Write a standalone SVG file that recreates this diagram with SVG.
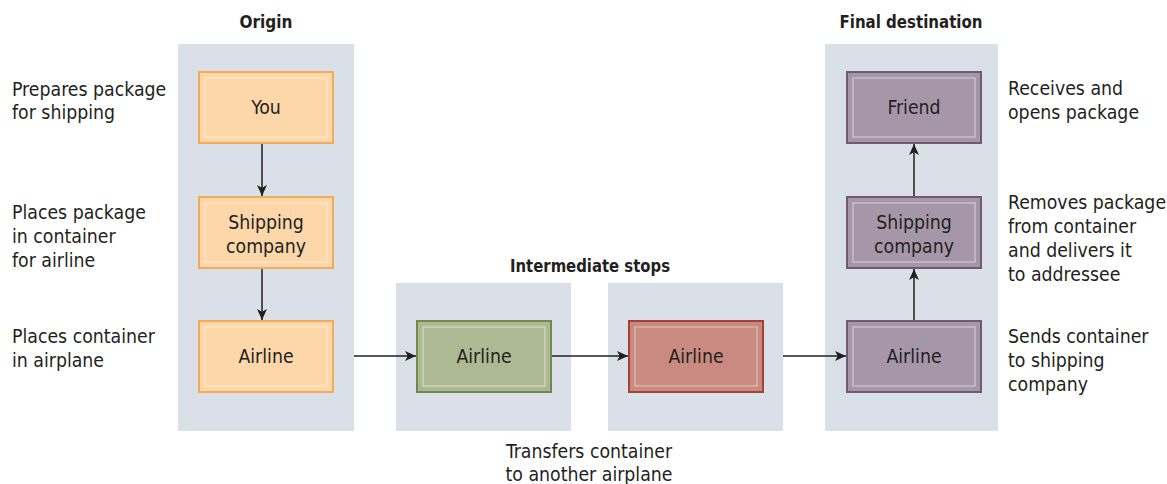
<svg xmlns="http://www.w3.org/2000/svg" width="1167" height="484" viewBox="0 0 1167 484">
<style>
text{font-family:"Liberation Sans Narrow","DejaVu Sans Condensed","Roboto Condensed","Liberation Sans",sans-serif;font-size:19.3px;fill:#231f20}
.t{font-weight:bold;text-anchor:middle;font-size:18.5px}
.c{text-anchor:middle}
.panel{fill:#d9e0e7}
.inner{fill:none;stroke-width:1.2}
.or{fill:#fdd6aa;stroke:#f5a95a;stroke-width:2}
.or2{stroke:#fde6c8}
.gr{fill:#adb993;stroke:#6f8a4a;stroke-width:2}
.gr2{stroke:#d5dcc3}
.rd{fill:#c98a82;stroke:#a8403a;stroke-width:2}
.rd2{stroke:#e6bcb6}
.pu{fill:#a597a8;stroke:#6f5a72;stroke-width:2}
.pu2{stroke:#d3c9d4}
.conn{stroke:#231f20;stroke-width:1.5;fill:none;marker-end:url(#ah)}
</style>
<defs>
<marker id="ah" viewBox="0 0 10 10" refX="10" refY="5" markerWidth="13" markerHeight="11" markerUnits="userSpaceOnUse" orient="auto">
<path d="M0,0.5 L10,5 L0,9.5 L2.5,5 z" fill="#231f20"/>
</marker>
</defs>
<g id="panels">
<rect class="panel" x="178" y="44" width="176" height="387"/>
<rect class="panel" x="396" y="283" width="175" height="148"/>
<rect class="panel" x="608" y="283" width="175" height="148"/>
<rect class="panel" x="825" y="44" width="173" height="387"/>
</g>
<g id="titles">
<text class="t" x="266" y="28" textLength="53" lengthAdjust="spacingAndGlyphs">Origin</text>
<text class="t" x="590" y="272" textLength="160" lengthAdjust="spacingAndGlyphs">Intermediate stops</text>
<text class="t" x="911" y="28" textLength="143" lengthAdjust="spacingAndGlyphs">Final destination</text>
</g>
<g id="connectors">
<line class="conn" x1="262" y1="144" x2="262" y2="196"/>
<line class="conn" x1="262" y1="268" x2="262" y2="320"/>
<line class="conn" x1="354" y1="356" x2="416" y2="356"/>
<line class="conn" x1="551" y1="356" x2="628" y2="356"/>
<line class="conn" x1="783" y1="356" x2="846" y2="356"/>
<line class="conn" x1="914" y1="321" x2="914" y2="269"/>
<line class="conn" x1="914" y1="196" x2="914" y2="144"/>
</g>
<g id="node-you">
<rect class="or" x="199" y="72" width="134" height="71"/>
<rect class="inner or2" x="205" y="78" width="122" height="59"/>
<text class="c" x="266" y="114">You</text>
</g>
<g id="node-shipping-origin">
<rect class="or" x="199" y="197" width="134" height="71"/>
<rect class="inner or2" x="205" y="203" width="122" height="59"/>
<text class="c" x="266" y="229">Shipping</text>
<text class="c" x="266" y="253">company</text>
</g>
<g id="node-airline-origin">
<rect class="or" x="199" y="321" width="134" height="71"/>
<rect class="inner or2" x="205" y="327" width="122" height="59"/>
<text class="c" x="266" y="363">Airline</text>
</g>
<g id="node-airline-green">
<rect class="gr" x="417" y="321" width="134" height="71"/>
<rect class="inner gr2" x="423" y="327" width="122" height="59"/>
<text class="c" x="484" y="363">Airline</text>
</g>
<g id="node-airline-red">
<rect class="rd" x="629" y="321" width="134" height="71"/>
<rect class="inner rd2" x="635" y="327" width="122" height="59"/>
<text class="c" x="696" y="363">Airline</text>
</g>
<g id="node-airline-final">
<rect class="pu" x="847" y="321" width="134" height="71"/>
<rect class="inner pu2" x="853" y="327" width="122" height="59"/>
<text class="c" x="914" y="363">Airline</text>
</g>
<g id="node-shipping-final">
<rect class="pu" x="847" y="197" width="134" height="71"/>
<rect class="inner pu2" x="853" y="203" width="122" height="59"/>
<text class="c" x="914" y="229">Shipping</text>
<text class="c" x="914" y="253">company</text>
</g>
<g id="node-friend">
<rect class="pu" x="847" y="72" width="134" height="71"/>
<rect class="inner pu2" x="853" y="78" width="122" height="59"/>
<text class="c" x="914" y="114">Friend</text>
</g>
<g id="labels">
<text x="12" y="96">Prepares package</text>
<text x="12" y="119">for shipping</text>
<text x="12" y="219">Places package</text>
<text x="12" y="243">in container</text>
<text x="12" y="267">for airline</text>
<text x="12" y="343">Places container</text>
<text x="12" y="367">in airplane</text>
<text x="1008" y="95">Receives and</text>
<text x="1008" y="119">opens package</text>
<text x="1008" y="209">Removes package</text>
<text x="1008" y="233">from container</text>
<text x="1008" y="257">and delivers it</text>
<text x="1008" y="281">to addressee</text>
<text x="1008" y="343">Sends container</text>
<text x="1008" y="367">to shipping</text>
<text x="1008" y="391">company</text>
<text class="c" x="589" y="458">Transfers container</text>
<text class="c" x="589" y="481">to another airplane</text>
</g>
</svg>
